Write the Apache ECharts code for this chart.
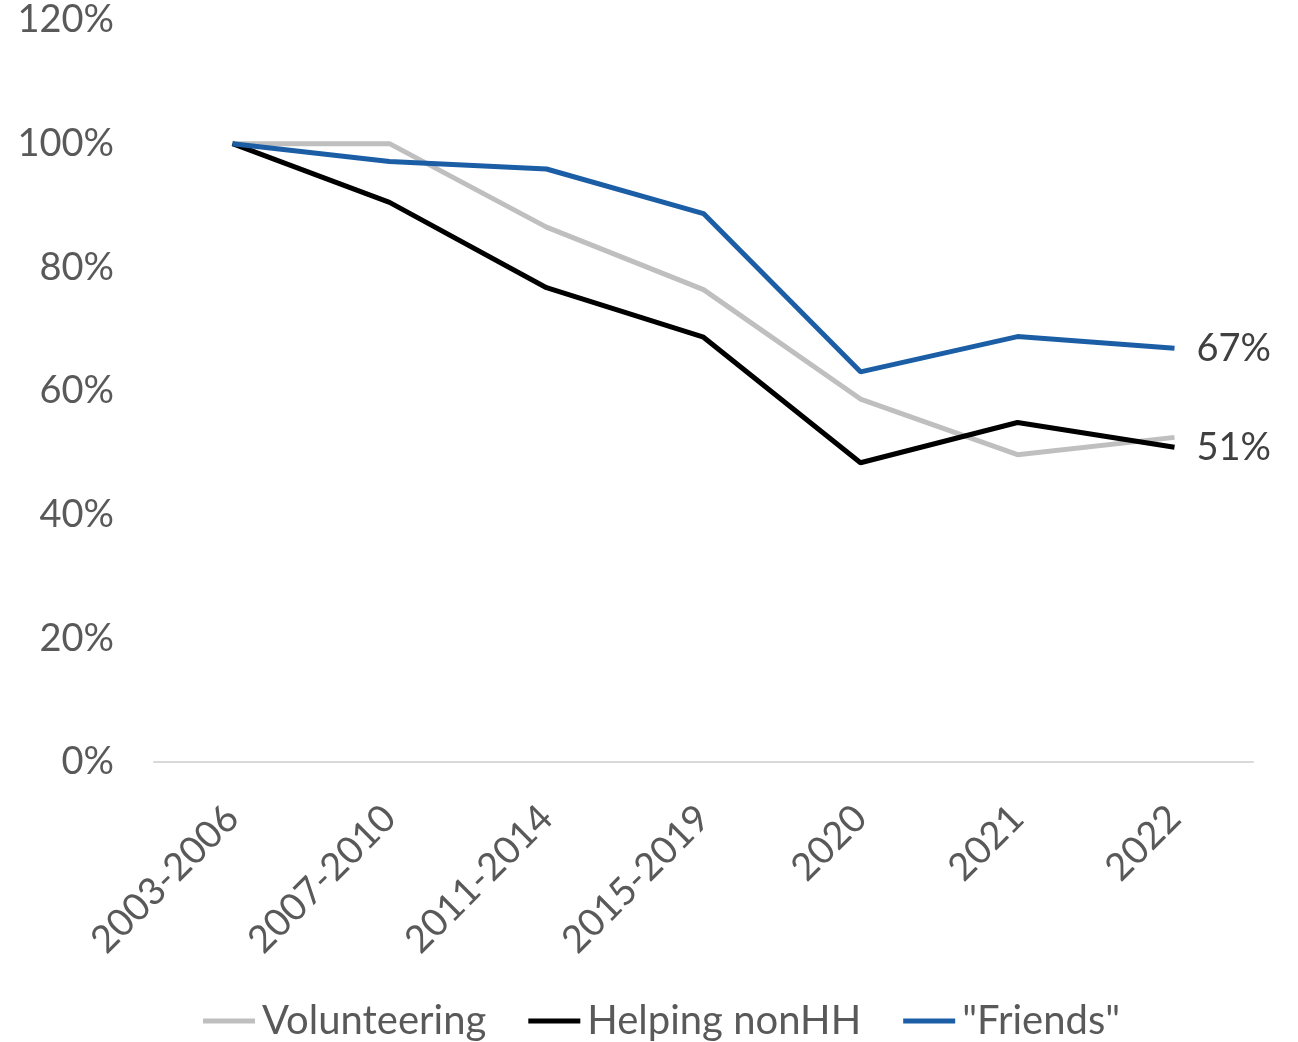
<!DOCTYPE html>
<html>
<head>
<meta charset="utf-8">
<script src="https://cdn.jsdelivr.net/npm/echarts@6/dist/echarts.min.js"></script>
<style>html,body{margin:0;padding:0;background:#fff;}#main{width:1298px;height:1042px;}</style>
</head>
<body>
<div id="main"></div>
<script>
const categories = ['2003-2006','2007-2010','2011-2014','2015-2019','2020','2021','2022'];
const volunteering = [100, 100, 86.5, 76.4, 58.7, 49.7, 52.5];
const helpingNonHH = [100, 90.5, 76.7, 68.7, 48.4, 54.9, 50.9];
const friends = [100, 97.1, 95.9, 88.7, 63.1, 68.8, 66.9];
const seriesNames = ['Volunteering', 'Helping nonHH', '"Friends"'];

const FONT = 'Lato';
const endLbl = {
  show: true, distance: 22,
  formatter: p => Math.round(p.value) + '%',
  color: '#404040', fontSize: 38, fontFamily: FONT
};
const chart = echarts.init(document.getElementById('main'));
chart.setOption({
  animation: false,
  grid: { left: 154, right: 45, top: 20, bottom: 280 },
  xAxis: {
    type: 'category',
    data: categories,
    boundaryGap: true,
    axisLine: { lineStyle: { color: '#D9D9D9', width: 2 } },
    axisTick: { show: false },
    axisLabel: { rotate: 45, color: '#595959', fontSize: 38, fontFamily: FONT, margin: 50, interval: 0 }
  },
  yAxis: {
    type: 'value',
    min: 0, max: 120, interval: 20,
    axisLine: { show: false },
    axisTick: { show: false },
    splitLine: { show: false },
    axisLabel: { formatter: '{value}%', color: '#595959', fontSize: 38, fontFamily: FONT, margin: 40 }
  },
  legend: {
    bottom: -4,
    left: 198,
    icon: 'rect',
    itemWidth: 52,
    itemHeight: 5,
    itemGap: 42,
    textStyle: { color: '#595959', fontSize: 40, fontFamily: FONT, padding: [0, 0, 0, 2] },
    data: seriesNames
  },
  series: [
    { name: seriesNames[0], type: 'line', data: volunteering, symbol: 'none', lineStyle: { color: '#BFBFBF', width: 5 }, itemStyle: { color: '#BFBFBF' } },
    { name: seriesNames[1], type: 'line', data: helpingNonHH, symbol: 'none', lineStyle: { color: '#000000', width: 5 }, itemStyle: { color: '#000000' }, endLabel: endLbl },
    { name: seriesNames[2], type: 'line', data: friends, symbol: 'none', lineStyle: { color: '#1B5EA6', width: 5 }, itemStyle: { color: '#1B5EA6' }, endLabel: endLbl }
  ]
});
</script>
</body>
</html>
